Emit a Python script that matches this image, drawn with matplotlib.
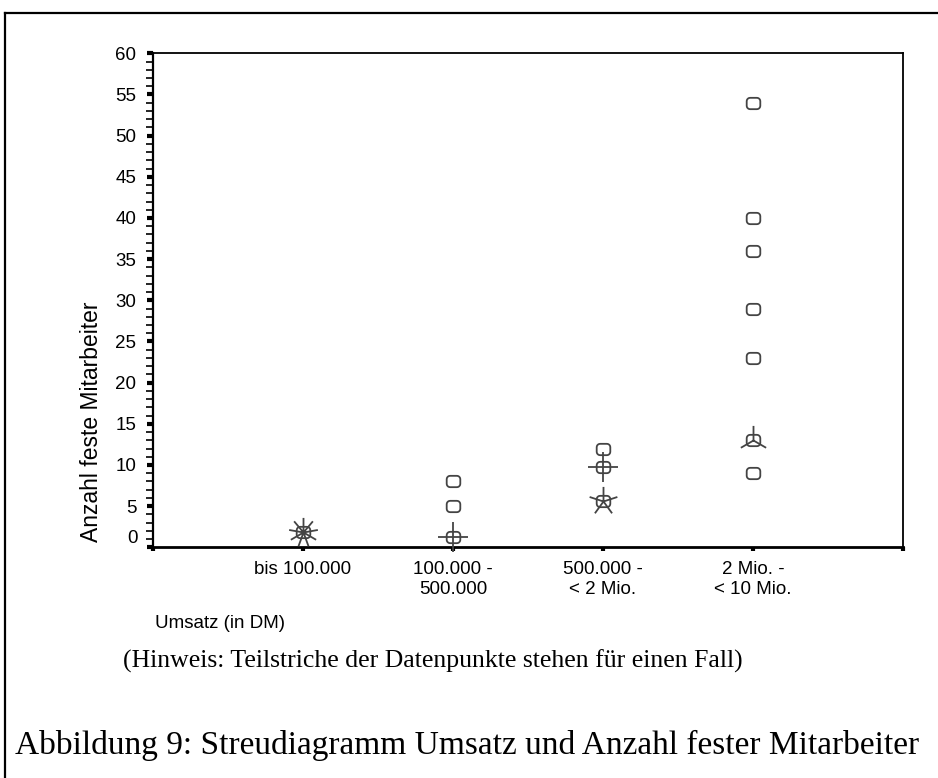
import numpy as np
import matplotlib
matplotlib.use("Agg")
import matplotlib.pyplot as plt
from matplotlib.path import Path
from matplotlib.lines import Line2D

plt.rcParams['font.family'] = ['Liberation Sans', 'DejaVu Sans']

# ---- data ----
categories = ["bis 100.000", "100.000 -\n500.000", "500.000 -\n< 2 Mio.", "2 Mio. -\n< 10 Mio."]
# single cases (open squares): category index (1-based), value
single_x = [2, 2, 3, 4, 4, 4, 4, 4, 4]
single_y = [8, 5, 12, 54, 40, 36, 29, 23, 9]
# sunflowers: category, value, number of petals (cases)
flower_x = [1, 2, 3, 3, 4]
flower_y = [1.8, 1.2, 9.7, 5.6, 13]
flower_n = [9, 4, 4, 5, 3]
yticks = list(range(0, 61, 5))

ink = '#444444'

fig = plt.figure(figsize=(9.38, 7.78), dpi=100)
W, H = 938, 778
ax = fig.add_axes([153 / W, 1 - 547.3 / H, (903 - 153) / W, (547.3 - 53.3) / H])
ax.set_xlim(0, 5)
ax.set_ylim(0, 60)


def rounded_square(w=1.2, h=1.0, r=0.3, n=6):
    verts = []
    corners = [(w / 2 - r, h / 2 - r, 0), (-w / 2 + r, h / 2 - r, 90),
               (-w / 2 + r, -h / 2 + r, 180), (w / 2 - r, -h / 2 + r, 270)]
    for cx, cy, a0 in corners:
        for t in np.linspace(a0, a0 + 90, n):
            verts.append((cx + r * np.cos(np.radians(t)), cy + r * np.sin(np.radians(t))))
    verts.append(verts[0])
    codes = [Path.MOVETO] + [Path.LINETO] * (len(verts) - 2) + [Path.CLOSEPOLY]
    return Path(verts, codes)


def petals(n):
    verts, codes = [], []
    for k in range(n):
        a = np.radians(90 - 360.0 * k / n)
        verts += [(0, 0), (np.cos(a), np.sin(a))]
        codes += [Path.MOVETO, Path.LINETO]
    verts += [(-1, -1), (1, 1)]
    codes += [Path.MOVETO, Path.MOVETO]
    return Path(verts, codes)


sq = rounded_square()
ax.plot(single_x, single_y, linestyle='none', marker=sq, markersize=9.8,
        markerfacecolor='none', markeredgecolor=ink, markeredgewidth=1.3, clip_on=False, zorder=3)
ax.plot(flower_x, flower_y, linestyle='none', marker=sq, markersize=9.8,
        markerfacecolor='none', markeredgecolor=ink, markeredgewidth=1.3, clip_on=False, zorder=3)
for fx, fy, n in zip(flower_x, flower_y, flower_n):
    ax.plot([fx], [fy], linestyle='none', marker=petals(n),
            markersize=21, markerfacecolor='none', markeredgecolor=ink, markeredgewidth=1.3,
            clip_on=False, zorder=3)

# axes styling
for s, lw in [('left', 1.6), ('bottom', 2.0), ('top', 1.3), ('right', 1.3)]:
    ax.spines[s].set_linewidth(lw)
    ax.spines[s].set_color('black')

ax.set_yticks(yticks)
ax.set_yticklabels([''] + [str(v) for v in yticks[1:]], fontsize=13.5)
ax.set_yticks(range(0, 61), minor=True)
ax.tick_params(axis='y', which='major', direction='out', length=4, width=3, pad=8)
ax.tick_params(axis='y', which='minor', direction='out', length=5, width=1.2)
ax.annotate('0', xy=(0, 0), xycoords=('axes fraction', 'data'), xytext=(-15, 9),
            textcoords='offset pixels', ha='right', va='center', fontsize=13.5)

ax.set_xticks(range(0, 6))
ax.set_xticklabels([''] + categories + [''], fontsize=13.5, linespacing=1.2)
ax.tick_params(axis='x', which='major', direction='out', length=3, width=3, pad=7)
for lab in ax.get_xticklabels():
    lab.set_ha('center')

fig.text(91 / W, 1 - 422 / H, 'Anzahl feste Mitarbeiter', rotation=90, ha='center', va='center',
         fontsize=16.5)
fig.text(155 / W, 1 - 623 / H, 'Umsatz (in DM)', ha='left', va='center', fontsize=13.5)
fig.text(433 / W, 1 - 661 / H, '(Hinweis: Teilstriche der Datenpunkte stehen für einen Fall)',
         ha='center', va='center', fontsize=18.5, family=['Liberation Serif', 'DejaVu Serif'])
fig.text(15 / W, 1 - 745 / H, 'Abbildung 9: Streudiagramm Umsatz und Anzahl fester Mitarbeiter',
         ha='left', va='center', fontsize=24, family=['Liberation Serif', 'DejaVu Serif'])

# outer frame
fig.add_artist(Line2D([5 / W, 5 / W], [0, 1 - 13 / H], transform=fig.transFigure, color='black', lw=1.6))
fig.add_artist(Line2D([5 / W, 1], [1 - 13 / H, 1 - 13 / H], transform=fig.transFigure, color='black', lw=1.6))

fig.savefig('out.png', dpi=100)
